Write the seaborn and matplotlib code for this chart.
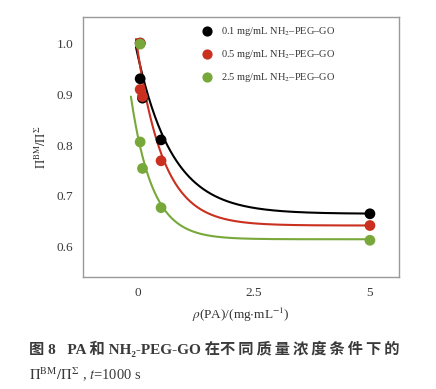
import numpy as np
import pandas as pd
import seaborn as sns
import matplotlib.pyplot as plt

rho = [0.05, 0.05, 0.1, 0.5, 5]
ratio_01 = [1.0, 0.930, 0.892, 0.810, 0.665]
ratio_05 = [1.0, 0.909, 0.895, 0.769, 0.642]
ratio_25 = [0.998, 0.806, 0.754, 0.677, 0.613]

labels = ['0.1 mg/mL NH$_2$\u2013PEG\u2013GO',
          '0.5 mg/mL NH$_2$\u2013PEG\u2013GO',
          '2.5 mg/mL NH$_2$\u2013PEG\u2013GO']
colors = ['#000000', '#c9301f', '#78a83a']

# exponential-decay fit lines (plateau, amplitude, decay length, start x)
fit_plateau = [0.665, 0.642, 0.615]
fit_amp = [0.327, 0.366, 0.280]
fit_tau = [0.76, 0.57, 0.46]
fit_x0 = [-0.04, -0.04, -0.15]

sns.set_style('white')
plt.rcParams['mathtext.fontset'] = 'stix'
plt.rcParams['font.family'] = ['Liberation Serif', 'Noto Sans CJK SC', 'DejaVu Sans']

pts = pd.DataFrame({
    'rho': rho * 3,
    'ratio': ratio_01 + ratio_05 + ratio_25,
    'series': [labels[0]] * 5 + [labels[1]] * 5 + [labels[2]] * 5,
})

fit_rows = []
for lab, c, a, t, x0 in zip(labels, fit_plateau, fit_amp, fit_tau, fit_x0):
    xs = np.linspace(x0, 5, 300)
    fit_rows.append(pd.DataFrame({'rho': xs, 'ratio': c + a * np.exp(-(xs - x0) / t), 'series': lab}))
fits = pd.concat(fit_rows)

fig = plt.figure(figsize=(4.36, 3.89), dpi=100)
ax = fig.add_axes([0.190, 0.288, 0.725, 0.668])
palette = dict(zip(labels, colors))

sns.lineplot(data=fits, x='rho', y='ratio', hue='series', palette=palette,
             linewidth=1.5, legend=False, sort=False, ax=ax)
sns.scatterplot(data=pts, x='rho', y='ratio', hue='series', palette=palette,
                s=60, edgecolor='none', ax=ax, zorder=3)

ax.set_xlim(-1.185, 5.625)
ax.set_ylim(0.541, 1.051)
ax.set_xticks([0, 2.5, 5])
ax.set_xticklabels(['0', '2.5', '5'])
ax.set_yticks([0.6, 0.7, 0.8, 0.9, 1.0])
ax.set_yticklabels(['0.6', '0.7', '0.8', '0.9', '1.0'])
ax.tick_params(labelsize=9.5, length=2, width=0.8, color='#888888', labelcolor='#3a3a3a', pad=5)
for sp in ax.spines.values():
    sp.set_color('#999999')
    sp.set_linewidth(1.0)

ax.set_xlabel(r'$\it{\rho}$(PA)/(mg$\cdot$mL$^{-1}$)', fontsize=9.5, color='#333333', labelpad=5)
ax.set_ylabel(r'$\mathit{\Pi}^{\rm BM}/\mathit{\Pi}^{\Sigma}$', fontsize=9, color='#333333', labelpad=5)

leg = ax.legend(loc='upper left', bbox_to_anchor=(0.335, 1.0), frameon=False,
                fontsize=7.5, handletextpad=0.25, labelspacing=0.95, markerscale=0.95,
                borderaxespad=0.4)
for txt in leg.get_texts():
    txt.set_color('#333333')

caption1 = '图 8   PA 和 NH\u2082-PEG-GO 在' + '\u2009'.join('不同质量浓度条件下的')
fig.text(0.066, 0.09, caption1, fontsize=11, fontweight='bold', color='#3a3a3a')
fig.text(0.066, 0.022, r'$\mathit{\Pi}^{\rm BM}/\mathit{\Pi}^{\Sigma}$ , $\it{t}$=1000 s',
         fontsize=10.5, color='#3a3a3a')

fig.savefig('out.png', dpi=100)
